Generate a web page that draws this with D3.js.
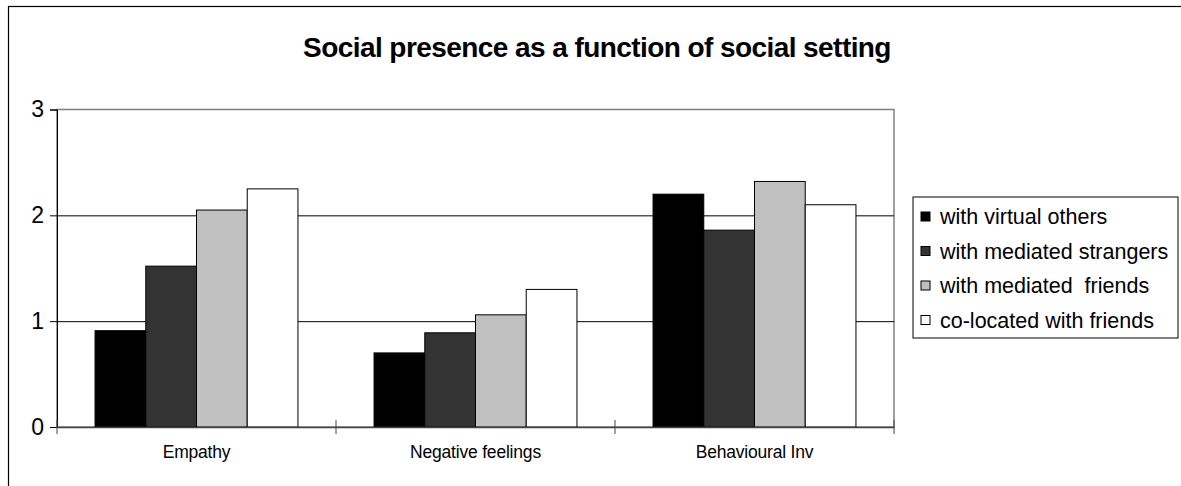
<!DOCTYPE html>
<html>
<head>
<meta charset="utf-8">
<script src="https://cdn.jsdelivr.net/npm/d3@7"></script>
<style>
  html, body { margin: 0; padding: 0; background: #fff; }
  svg { display: block; }
  text { font-family: "Liberation Sans", Arial, sans-serif; fill: #000; }
</style>
</head>
<body>
<svg id="chart" width="1181" height="486"></svg>
<script>
const title = "Social presence as a function of social setting";
const categories = ["Empathy", "Negative feelings", "Behavioural Inv"];
const seriesNames = ["with virtual others", "with mediated strangers", "with mediated  friends", "co-located with friends"];
const virtualOthers = [0.91, 0.70, 2.20];
const mediatedStrangers = [1.52, 0.89, 1.86];
const mediatedFriends = [2.05, 1.06, 2.32];
const colocatedFriends = [2.25, 1.30, 2.10];
const yTicks = [0, 1, 2, 3];
const seriesColors = ["#000000", "#333333", "#c0c0c0", "#ffffff"];

const seriesValues = [virtualOthers, mediatedStrangers, mediatedFriends, colocatedFriends];

const svg = d3.select("#chart");

// outer chart border
svg.append("rect")
  .attr("x", 8.5).attr("y", 6.5)
  .attr("width", 1220).attr("height", 520)
  .attr("fill", "#fff").attr("stroke", "#000").attr("stroke-width", 1.2);

const plot = { left: 57, right: 894, top: 109.5, bottom: 427 };

const y = d3.scaleLinear().domain([0, 3]).range([plot.bottom, plot.top]);
const x0 = d3.scaleBand().domain(categories).range([plot.left, plot.right]).padding(0);
const x1 = d3.scaleBand().domain(seriesNames).range([0, x0.bandwidth()])
  .paddingInner(0).paddingOuter(0.75);

// plot area border
svg.append("rect")
  .attr("x", plot.left).attr("y", plot.top)
  .attr("width", plot.right - plot.left).attr("height", plot.bottom - plot.top)
  .attr("fill", "#fff").attr("stroke", "#808080").attr("stroke-width", 1.5);

// gridlines
svg.append("g")
  .attr("transform", `translate(${plot.left},0)`)
  .call(d3.axisLeft(y).tickValues(yTicks.filter(d => d > 0 && d < 3)).tickSize(-(plot.right - plot.left)).tickFormat(""))
  .call(g => g.select(".domain").remove())
  .call(g => g.selectAll("line").attr("stroke", "#000").attr("stroke-width", 1));

// bars
const groups = svg.append("g").selectAll("g")
  .data(categories)
  .join("g")
  .attr("transform", d => `translate(${x0(d)},0)`);

groups.selectAll("rect")
  .data((c, ci) => seriesNames.map((s, si) => ({ s, si, v: seriesValues[si][ci] })))
  .join("rect")
  .attr("x", d => x1(d.s))
  .attr("y", d => y(d.v))
  .attr("width", x1.bandwidth())
  .attr("height", d => y(0) - y(d.v))
  .attr("fill", d => seriesColors[d.si])
  .attr("stroke", "#000")
  .attr("stroke-width", 1);

// y axis
const yAxis = svg.append("g")
  .attr("transform", `translate(${plot.left},0)`)
  .call(d3.axisLeft(y).tickValues(yTicks).tickSize(7).tickPadding(6).tickFormat(d3.format("d")));
yAxis.select(".domain").attr("stroke", "#000");
yAxis.selectAll("line").attr("stroke", "#000");
yAxis.selectAll("text").attr("font-size", 23).attr("font-family", "Liberation Sans, Arial, sans-serif").attr("fill", "#000");

// x axis
const xAxis = svg.append("g")
  .attr("transform", `translate(0,${plot.bottom})`)
  .call(d3.axisBottom(x0).tickSize(0).tickPadding(19));
xAxis.select(".domain").attr("stroke", "#444").attr("stroke-width", 1.5);
xAxis.selectAll("text").attr("font-size", 17.5).attr("letter-spacing", -0.2).attr("font-family", "Liberation Sans, Arial, sans-serif").attr("fill", "#000");

// x tick marks at category boundaries
const bounds = categories.map(c => x0(c)).concat([plot.right]);
svg.append("g").selectAll("line")
  .data(bounds)
  .join("line")
  .attr("x1", d => d).attr("x2", d => d)
  .attr("y1", plot.bottom - 7).attr("y2", plot.bottom + 7)
  .attr("stroke", "#444").attr("stroke-width", 1);

// title
svg.append("text")
  .attr("x", 597).attr("y", 57)
  .attr("text-anchor", "middle")
  .attr("font-size", 28).attr("font-weight", "bold")
  .attr("letter-spacing", -0.57)
  .text(title);

// legend
const legend = svg.append("g");
legend.append("rect")
  .attr("x", 913).attr("y", 197)
  .attr("width", 265).attr("height", 141)
  .attr("fill", "#fff").attr("stroke", "#000").attr("stroke-width", 1);

const items = legend.selectAll("g.item")
  .data(seriesNames)
  .join("g")
  .attr("class", "item")
  .attr("transform", (d, i) => `translate(0,${216.5 + i * 34.5})`);

items.append("rect")
  .attr("x", 921).attr("y", -4.5)
  .attr("width", 9).attr("height", 9)
  .attr("fill", (d, i) => seriesColors[i])
  .attr("stroke", "#000").attr("stroke-width", 1);

items.append("text")
  .attr("x", 940).attr("y", 0)
  .attr("dy", "0.36em")
  .attr("font-size", 21.5)
  .style("white-space", "pre")
  .attr("xml:space", "preserve")
  .text(d => d);
</script>
</body>
</html>
